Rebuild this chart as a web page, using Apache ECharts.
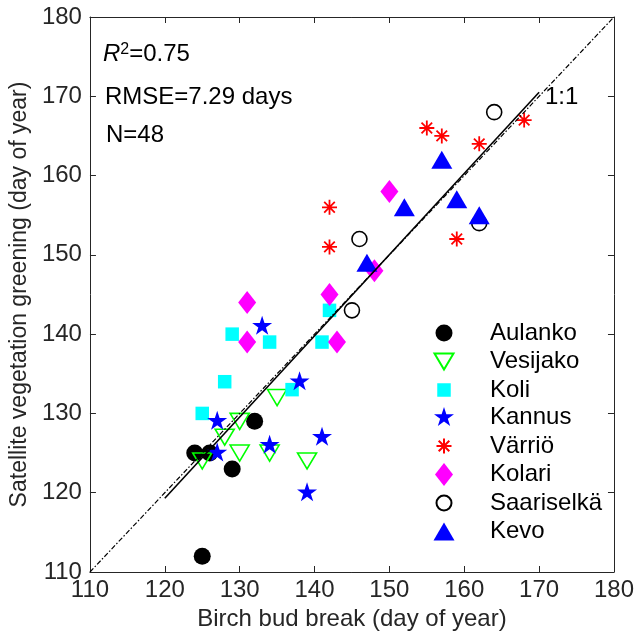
<!DOCTYPE html>
<html>
<head>
<meta charset="utf-8">
<script src="https://cdn.jsdelivr.net/npm/echarts@6/dist/echarts.min.js"></script>
<style>html,body{margin:0;padding:0;background:#fff;}#c{width:637px;height:637px;}</style>
</head>
<body>
<div id="c"></div>
<script>
// ---- data ----
const aulankoX = [124, 126, 129, 132, 125];
const aulankoY = [125, 125, 123, 129, 112];
const vesijakoX = [125, 128, 130, 130, 134, 135, 139];
const vesijakoY = [124, 127, 129, 125, 125, 132, 124];
const koliX = [125, 128, 129, 134, 137, 141, 142];
const koliY = [130, 134, 140, 139, 133, 139, 143];
const kannusX = [127, 127, 133, 134, 138, 139, 141];
const kannusY = [129, 125, 141, 126, 134, 120, 127];
const varrioX = [142, 142, 155, 157, 159, 162, 168];
const varrioY = [156, 151, 166, 165, 152, 164, 167];
const kolariX = [131, 131, 142, 143, 148, 150];
const kolariY = [144, 139, 145, 139, 148, 158];
const saariselkaX = [145, 146, 162, 164];
const saariselkaY = [143, 152, 154, 168];
const kevoX = [147, 152, 157, 159, 162];
const kevoY = [149, 156, 162, 157, 155];
const regX = [120, 170];
const regY = [119.3, 170.5];
const oneX = [110, 180];
const oneY = [110, 180];
const xTicks = [110, 120, 130, 140, 150, 160, 170, 180];
const yTicks = [110, 120, 130, 140, 150, 160, 170, 180];
const siteNames = ['Aulanko', 'Vesijako', 'Koli', 'Kannus', 'Värriö', 'Kolari', 'Saariselkä', 'Kevo'];
const stats = { r2: '0.75', rmse: 'RMSE=7.29 days', n: 'N=48' };

const zip = (xs, ys) => xs.map((x, i) => [x, ys[i]]);
const FONT = 'Liberation Sans, Arial, Helvetica, sans-serif';
const AX = '#262626';

// marker shapes (padded to a common 24x24 box so 1 unit = 1 px)
const PAD = 'M-12,-12M12,12';
const SYM = {
  dot: 'path://' + PAD + 'M-8.5,0A8.5,8.5,0,1,1,8.5,0A8.5,8.5,0,1,1,-8.5,0Z',
  triDown: 'path://' + PAD + 'M-9.5,-8L9.5,-8L0,8Z',
  square: 'path://' + PAD + 'M-6.75,-6.75L6.75,-6.75L6.75,6.75L-6.75,6.75Z',
  star: 'path://' + PAD + 'M0,-10.5L2.36,-3.24L9.99,-3.24L3.81,1.24L6.17,8.49L0,4.01L-6.17,8.49L-3.81,1.24L-9.99,-3.24L-2.36,-3.24Z',
  aster: 'path://' + PAD + 'M0,-7.5L0,7.5M-7.5,0L7.5,0M-5.3,-5.3L5.3,5.3M-5.3,5.3L5.3,-5.3',
  diamond: 'path://' + PAD + 'M0,-11.5L9,0L0,11.5L-9,0Z',
  ring: 'path://' + PAD + 'M-7.5,0A7.5,7.5,0,1,1,7.5,0A7.5,7.5,0,1,1,-7.5,0Z',
  triUp: 'path://' + PAD + 'M-10.5,9L10.5,9L0,-9Z'
};

function sc(name, xs, ys, symbol, itemStyle) {
  return { name, type: 'scatter', data: zip(xs, ys), symbol, symbolSize: 24,
    itemStyle: Object.assign({ opacity: 1 }, itemStyle), z: 2, emphasis: { disabled: true } };
}

const series = [
  sc(siteNames[0], aulankoX, aulankoY, SYM.dot, { color: '#000' }),
  sc(siteNames[1], vesijakoX, vesijakoY, SYM.triDown, { color: 'rgba(0,0,0,0)', borderColor: '#00ff00', borderWidth: 1.6 }),
  sc(siteNames[2], koliX, koliY, SYM.square, { color: '#00ffff' }),
  sc(siteNames[3], kannusX, kannusY, SYM.star, { color: '#0000ff' }),
  sc(siteNames[4], varrioX, varrioY, SYM.aster, { color: '#ff0000', borderColor: '#ff0000', borderWidth: 1.8 }),
  sc(siteNames[5], kolariX, kolariY, SYM.diamond, { color: '#ff00ff' }),
  sc(siteNames[6], saariselkaX, saariselkaY, SYM.ring, { color: 'rgba(0,0,0,0)', borderColor: '#000', borderWidth: 1.6 }),
  sc(siteNames[7], kevoX, kevoY, SYM.triUp, { color: '#0000ff' }),
  { name: 'fit', type: 'line', data: zip(regX, regY), symbol: 'none', z: 5,
    lineStyle: { color: '#000', width: 1.6 }, emphasis: { disabled: true } },
  { name: '1:1', type: 'line', data: zip(oneX, oneY), symbol: 'none', z: 5,
    lineStyle: { color: '#000', width: 1.2, type: [5, 2, 1.5, 2] }, emphasis: { disabled: true } }
];

const chart = echarts.init(document.getElementById('c'), null, { renderer: 'canvas' });
const axisCommon = {
  type: 'value', min: 110, max: 180, interval: 10,
  axisLine: { show: true, lineStyle: { color: AX, width: 1 } },
  axisTick: { show: true, inside: true, length: 6, lineStyle: { color: AX } },
  splitLine: { show: false }
};
chart.setOption({
  animation: false,
  backgroundColor: '#fff',
  grid: { left: 88, top: 17, width: 528, height: 555, containLabel: false },
  xAxis: [
    Object.assign({}, axisCommon, { position: 'bottom',
      name: 'Birch bud break (day of year)', nameLocation: 'middle', nameGap: 28,
      nameTextStyle: { fontFamily: FONT, fontSize: 24, color: AX },
      axisLabel: { fontFamily: FONT, fontSize: 24, color: AX, margin: 6,
        formatter: v => xTicks.includes(v) ? String(v) : '' } }),
    Object.assign({}, axisCommon, { position: 'top', axisLabel: { show: false } })
  ],
  yAxis: [
    Object.assign({}, axisCommon, { position: 'left',
      name: 'Satellite vegetation greening (day of year)', nameLocation: 'middle', nameGap: 54,
      nameTextStyle: { fontFamily: FONT, fontSize: 23, color: AX },
      axisLabel: { fontFamily: FONT, fontSize: 24, color: AX, margin: 8,
        formatter: v => yTicks.includes(v) ? String(v) : '' } }),
    Object.assign({}, axisCommon, { position: 'right', axisLabel: { show: false } })
  ],
  legend: {
    orient: 'vertical', left: 431, top: 321, padding: 0,
    data: siteNames,
    itemWidth: 24, itemHeight: 24, itemGap: 3.5, symbolKeepAspect: true,
    textStyle: { fontFamily: FONT, fontSize: 24, color: '#000', padding: [0, 0, 0, 29] },
    selectedMode: false
  },
  graphic: [
    { type: 'text', left: 103, top: 42, style: {
      rich: {
        i: { fontFamily: FONT, fontSize: 24, fontStyle: 'italic', fill: '#000' },
        s: { fontFamily: FONT, fontSize: 16, fill: '#000', verticalAlign: 'top', padding: [0, 0, 9, 0] },
        n: { fontFamily: FONT, fontSize: 24, fill: '#000' }
      },
      text: '{i|R}{s|2}{n|=' + stats.r2 + '}' } },
    { type: 'text', left: 105, top: 85, style: { text: stats.rmse, fontFamily: FONT, fontSize: 24, fill: '#000' } },
    { type: 'text', left: 106, top: 123, style: { text: stats.n, fontFamily: FONT, fontSize: 24, fill: '#000' } },
    { type: 'text', left: 545, top: 85, style: { text: '1:1', fontFamily: FONT, fontSize: 24, fill: '#000' } }
  ],
  series
});
</script>
</body>
</html>
